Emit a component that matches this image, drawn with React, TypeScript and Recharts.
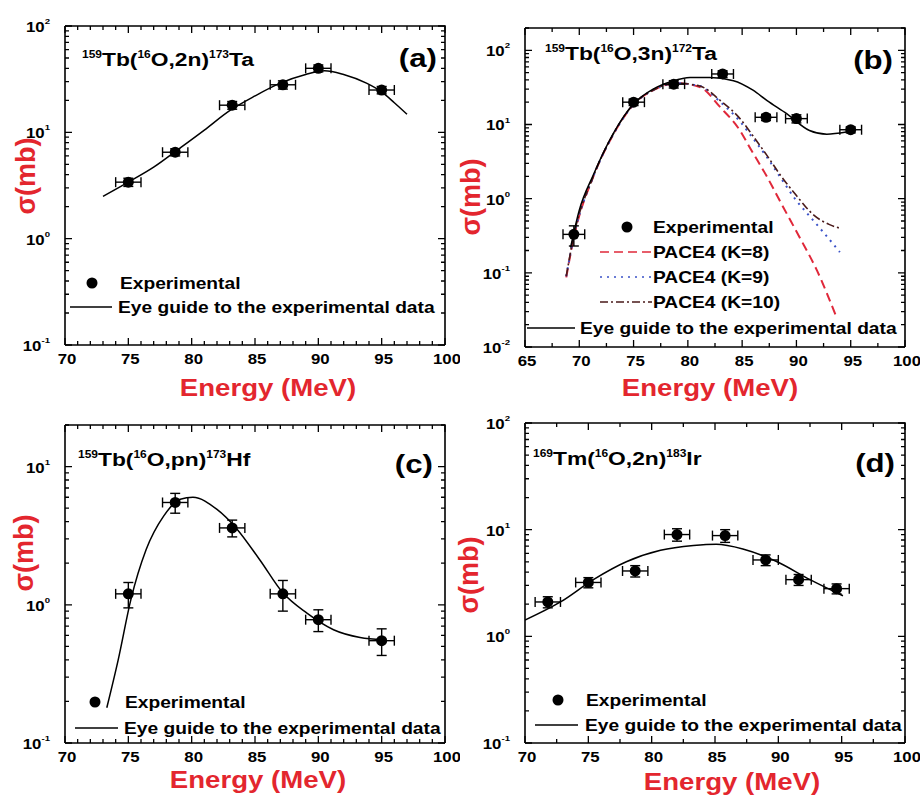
import React from "react"
import { ComposedChart, Scatter, Line, XAxis, YAxis, ErrorBar } from "recharts"

// ---- (a) 159Tb(16O,2n)173Ta
const aExpE = [75, 78.7, 83.2, 87.2, 90, 95]
const aExpV = [3.4, 6.5, 18, 28, 40, 25]
const aExpDy = [0.3, 0.5, 1.5, 2.5, 3, 2]
const aFitE = [73, 75, 77, 79, 81, 83, 85, 87, 89, 90.5, 92, 93.8, 95, 96, 97]
const aFitV = [2.5, 3.4, 4.7, 7, 10.5, 16, 22, 29, 35, 38, 35, 29, 24, 19, 14.8]

// ---- (b) 159Tb(16O,3n)172Ta
const bExpE = [69.5, 75, 78.7, 83.2, 87.2, 90, 95]
const bExpV = [0.33, 20, 35, 48, 12.5, 12, 8.5]
const bExpDy = [0.1, 2, 4, 5, 1.2, 1.5, 0.8]
const bFitE = [69.2, 70, 71.3, 73.1, 75, 76.8, 78.5, 80.2, 82, 84.2, 86, 87.3, 89.1, 91.2, 92.8, 94.6]
const bFitV = [0.22, 0.7, 2.1, 7.4, 19, 30, 38, 43, 43, 39, 29, 21, 14, 8.3, 7.4, 7.9]
const k8E = [68.8, 69.5, 71.3, 73.1, 75, 76.8, 79, 81.1, 83, 84.8, 85.7, 87.3, 88.8, 90.3, 91.9, 93.7]
const k8V = [0.087, 0.3, 2.0, 7.2, 18.5, 29, 36, 32, 17, 8.3, 4.9, 1.96, 0.76, 0.3, 0.107, 0.025]
const k9E = [68.8, 69.5, 71.3, 73.1, 75, 76.8, 79, 81.1, 83, 84.8, 86, 87.3, 88.5, 90, 91, 92.5, 94]
const k9V = [0.09, 0.31, 2.0, 7.2, 18.5, 29, 36, 33, 20, 11, 6.5, 3.6, 1.96, 0.94, 0.63, 0.35, 0.19]
const k10E = [68.8, 69.5, 71.3, 73.1, 75, 76.8, 79, 81.1, 83, 84.8, 86, 87.3, 88.5, 90, 91.6, 93, 94]
const k10V = [0.09, 0.32, 2.0, 7.3, 18.7, 29, 36, 33, 21, 12, 7, 3.8, 2.1, 1.1, 0.6, 0.45, 0.4]

// ---- (c) 159Tb(16O,pn)173Hf
const cExpE = [75, 78.7, 83.2, 87.2, 90, 95]
const cExpV = [1.2, 5.5, 3.6, 1.2, 0.78, 0.55]
const cExpDy = [0.25, 0.9, 0.5, 0.3, 0.14, 0.12]
const cFitE = [73.3, 74.2, 75.2, 76.4, 77.8, 79.1, 80.1, 82, 83.5, 85.4, 87.2, 89.1, 91.2, 93.3, 95.1]
const cFitV = [0.18, 0.4, 1.09, 2.5, 4.4, 5.8, 6.0, 4.9, 3.6, 2.1, 1.22, 0.87, 0.66, 0.58, 0.56]

// ---- (d) 169Tm(16O,2n)183Ir
const dExpE = [71.8, 75, 78.7, 82, 85.8, 89, 91.6, 94.6]
const dExpV = [2.1, 3.2, 4.1, 9.0, 8.8, 5.2, 3.4, 2.8]
const dExpDy = [0.25, 0.35, 0.5, 1.2, 1.2, 0.6, 0.4, 0.3]
const dFitE = [70, 72.8, 75.4, 78, 80.7, 83.3, 85.1, 87.2, 89.9, 92.5, 95.1]
const dFitV = [1.42, 2.1, 3.4, 5.0, 6.4, 7.1, 7.3, 6.6, 5.0, 3.4, 2.4]

const E_ERR = 1 // energy uncertainty, MeV

const xMajorA = [70, 75, 80, 85, 90, 95, 100]
const xMajorB = [65, 70, 75, 80, 85, 90, 95, 100]

const RED = "#e3262e"
const FONT = '"Liberation Sans", Arial, sans-serif'
const SX = 1.2
const W = 460
const H = 400
const AX_H = 30 // x axis band height
const AX_W = 50 // y axis band width

const pts = (e: number[], v: number[], dy: number[]) =>
  e.map((x, i) => ({ e: x, v: v[i], ex: E_ERR, ey: dy[i] }))
const curve = (e: number[], v: number[]) => e.map((x, i) => ({ e: x, v: v[i] }))

// minor ticks on x every `step`, log minors 2..9 per decade
function linTicks(lo: number, hi: number, step: number) {
  const out: number[] = []
  for (let t = lo; t <= hi + 1e-9; t += step) out.push(Math.round(t * 100) / 100)
  return out
}
function logTicks(lo: number, hi: number) {
  const out: number[] = []
  for (let k = Math.floor(Math.log10(lo)); k <= Math.ceil(Math.log10(hi)); k++)
    for (let m = 1; m < 10; m++) {
      const v = m * Math.pow(10, k)
      if (v >= lo * 0.999 && v <= hi * 1.001) out.push(v)
    }
  return out
}
const isDecade = (v: number) => Math.abs(Math.log10(v) - Math.round(Math.log10(v))) < 1e-6

function T({ x, y, size, anchor = "start", fill = "#000", children }: any) {
  return (
    <text transform={`translate(${x},${y}) scale(${SX},1)`} textAnchor={anchor} fontSize={size}
      fontWeight="bold" fontFamily={FONT} fill={fill}>{children}</text>
  )
}

function Reaction({ x, y, a, t, p, b, r }: any) {
  return (
    <T x={x} y={y} size={19}>
      <tspan fontSize={10} dy={-8}>{a}</tspan>
      <tspan dy={8}>{t}(</tspan>
      <tspan fontSize={10} dy={-8}>16</tspan>
      <tspan dy={8}>O,{p})</tspan>
      <tspan fontSize={10} dy={-8}>{b}</tspan>
      <tspan dy={8}>{r}</tspan>
    </T>
  )
}

function Dot(p: any) {
  return <circle cx={p.cx} cy={p.cy} r={5.5} fill="#000" />
}

type Fit = { data: { e: number; v: number }[]; stroke: string; dash?: string; width?: number }
type M = { top: number; right: number; bottom: number; left: number }

// m = frame position inside the 460x400 panel
function Panel({ left, top, m, xDomain, xTicks, xMajors, yDomain, exp, fits, children }: {
  left: number; top: number; m: M; xDomain: [number, number]; xTicks: number[]; xMajors: number[]
  yDomain: [number, number]; exp: any[]; fits: Fit[]; children: React.ReactNode
}) {
  const plotRight = W - m.right
  const plotBottom = H - m.bottom
  const yTicks = logTicks(yDomain[0], yDomain[1])
  const xTick = (p: any) => {
    const v = p.payload.value
    if (!xMajors.includes(v)) return <g />
    return <T x={p.x + 2} y={plotBottom + 19} size={14} anchor="middle">{v}</T>
  }
  const yTick = (p: any) => {
    const v = p.payload.value
    if (!isDecade(v)) return <g />
    const ex = Math.round(Math.log10(v))
    return (
      <T x={m.left - 15} y={p.y + 6} size={14} anchor="end">
        10<tspan fontSize={8} dy={-8}>{ex}</tspan>
      </T>
    )
  }
  // frame tick marks (inward, on all four sides); the frame box equals the plot area
  const fx = (v: number) => m.left + ((v - xDomain[0]) / (xDomain[1] - xDomain[0])) * (plotRight - m.left)
  const ly0 = Math.log10(yDomain[0])
  const ly1 = Math.log10(yDomain[1])
  const fy = (v: number) => plotBottom - ((Math.log10(v) - ly0) / (ly1 - ly0)) * (plotBottom - m.top)
  let marks = ""
  xTicks.forEach((v) => {
    const len = xMajors.includes(v) ? 7 : 4
    const x = fx(v)
    marks += `M${x},${plotBottom}V${plotBottom - len}M${x},${m.top}V${m.top + len}`
  })
  yTicks.forEach((v) => {
    const len = isDecade(v) ? 7 : 4
    const y = fy(v)
    marks += `M${m.left},${y}H${m.left + len}M${plotRight},${y}H${plotRight - len}`
  })
  const margin = { top: m.top, right: m.right, bottom: m.bottom - AX_H, left: m.left - AX_W }
  const line = { stroke: "#000", strokeWidth: 1.6 }
  return (
    <div style={{ position: "absolute", left, top, width: W, height: H }}>
      <ComposedChart width={W} height={H} margin={margin}>
        <XAxis type="number" dataKey="e" domain={xDomain} ticks={xTicks} interval={0} allowDataOverflow
          height={AX_H} tickSize={0} tickMargin={0} axisLine={line} tickLine={false} tick={xTick} />
        <YAxis type="number" dataKey="v" scale="log" domain={yDomain} ticks={yTicks} interval={0}
          allowDataOverflow width={AX_W} tickSize={0} tickMargin={0} axisLine={line} tickLine={false} tick={yTick} />
        {fits.map((f, i) => (
          <Line key={i} data={f.data} dataKey="v" type="monotone" stroke={f.stroke} strokeWidth={f.width ?? 1.5}
            strokeDasharray={f.dash} dot={false} activeDot={false} isAnimationActive={false} />
        ))}
        <Scatter data={exp} dataKey="v" shape={Dot} isAnimationActive={false}>
          <ErrorBar dataKey="ex" direction="x" width={5} stroke="#000" strokeWidth={1.4} />
          <ErrorBar dataKey="ey" direction="y" width={5} stroke="#000" strokeWidth={1.4} />
        </Scatter>
      </ComposedChart>
      <svg width={W} height={H} style={{ position: "absolute", left: 0, top: 0, pointerEvents: "none", overflow: "visible" }}>
        <path d={`M${m.left},${m.top}H${plotRight}V${plotBottom}`} stroke="#000" strokeWidth={1.6} fill="none" />
        <path d={marks} stroke="#000" strokeWidth={1.3} fill="none" />
        {children}
      </svg>
    </div>
  )
}

function YLabel({ x, y }: { x: number; y: number }) {
  return (
    <text transform={`translate(${x},${y}) rotate(-90)`} textAnchor="middle" fontSize={27} fontWeight="bold"
      fontFamily={FONT} fill={RED}>σ(mb)</text>
  )
}

function XLabel({ x, y }: { x: number; y: number }) {
  return <T x={x} y={y} size={23} anchor="middle" fill={RED}>Energy (MeV)</T>
}

function LegExp({ cx, cy, tx }: { cx: number; cy: number; tx: number }) {
  return (
    <g>
      <circle cx={cx} cy={cy} r={5.5} fill="#000" />
      <T x={tx} y={cy + 6} size={16}>Experimental</T>
    </g>
  )
}

function LegLine({ x1, x2, y, tx, label, stroke = "#000", dash }: any) {
  return (
    <g>
      <line x1={x1} x2={x2} y1={y} y2={y} stroke={stroke} strokeWidth={1.6} strokeDasharray={dash} />
      <T x={tx} y={y + 6} size={16}>{label}</T>
    </g>
  )
}

const EYE = "Eye guide to the experimental data"

export default function App() {
  return (
    <div style={{ position: "absolute", left: 0, top: 0, width: 922, height: 801, background: "#fff" }}>
      <Panel left={0} top={0} m={{ top: 26, right: 15, bottom: 55, left: 65 }} xDomain={[70, 100]}
        xTicks={linTicks(70, 100, 1)} xMajors={xMajorA} yDomain={[0.1, 100]}
        exp={pts(aExpE, aExpV, aExpDy)} fits={[{ data: curve(aFitE, aFitV), stroke: "#000" }]}>
        <Reaction x={82} y={66} a="159" t="Tb" p="2n" b="173" r="Ta" />
        <T x={437} y={67} size={26} anchor="end">(a)</T>
        <LegExp cx={92} cy={283} tx={120} />
        <LegLine x1={70} x2={112} y={307} tx={118} label={EYE} />
        <YLabel x={35} y={176} />
        <XLabel x={268} y={396} />
      </Panel>

      <Panel left={460} top={0} m={{ top: 28, right: 15, bottom: 53, left: 65 }} xDomain={[65, 100]}
        xTicks={linTicks(65, 100, 2.5)} xMajors={xMajorB} yDomain={[0.01, 200]}
        exp={pts(bExpE, bExpV, bExpDy)}
        fits={[
          { data: curve(k8E, k8V), stroke: "#e0283a", dash: "9 5", width: 2 },
          { data: curve(k9E, k9V), stroke: "#3a52c8", dash: "2 5", width: 2 },
          { data: curve(k10E, k10V), stroke: "#4a1a1a", dash: "8 3 2 3", width: 1.6 },
          { data: curve(bFitE, bFitV), stroke: "#000" },
        ]}>
        <Reaction x={85} y={60} a="159" t="Tb" p="3n" b="172" r="Ta" />
        <T x={433} y={69} size={26} anchor="end">(b)</T>
        <LegExp cx={167} cy={227} tx={193} />
        <LegLine x1={140} x2={192} y={252} tx={193} label="PACE4 (K=8)" stroke="#e0283a" dash="9 5" />
        <LegLine x1={140} x2={192} y={277} tx={193} label="PACE4 (K=9)" stroke="#3a52c8" dash="2 5" />
        <LegLine x1={140} x2={192} y={302} tx={193} label="PACE4 (K=10)" stroke="#4a1a1a" dash="8 3 2 3" />
        <LegLine x1={67} x2={115} y={328} tx={120} label={EYE} />
        <YLabel x={20} y={197} />
        <XLabel x={250} y={396} />
      </Panel>

      <Panel left={0} top={400} m={{ top: 25, right: 15, bottom: 57, left: 65 }} xDomain={[70, 100]}
        xTicks={linTicks(70, 100, 1)} xMajors={xMajorA} yDomain={[0.1, 20]}
        exp={pts(cExpE, cExpV, cExpDy)} fits={[{ data: curve(cFitE, cFitV), stroke: "#000" }]}>
        <Reaction x={78} y={66} a="159" t="Tb" p="pn" b="173" r="Hf" />
        <T x={433} y={73} size={26} anchor="end">(c)</T>
        <LegExp cx={95} cy={302} tx={125} />
        <LegLine x1={75} x2={118} y={328} tx={124} label={EYE} />
        <YLabel x={33} y={153} />
        <XLabel x={258} y={388} />
      </Panel>

      <Panel left={460} top={400} m={{ top: 23, right: 15, bottom: 57, left: 65 }} xDomain={[70, 100]}
        xTicks={linTicks(70, 100, 2.5)} xMajors={xMajorA} yDomain={[0.1, 100]}
        exp={pts(dExpE, dExpV, dExpDy)} fits={[{ data: curve(dFitE, dFitV), stroke: "#000" }]}>
        <Reaction x={73} y={65} a="169" t="Tm" p="2n" b="183" r="Ir" />
        <T x={435} y={72} size={26} anchor="end">(d)</T>
        <LegExp cx={98} cy={300} tx={126} />
        <LegLine x1={75} x2={118} y={325} tx={125} label={EYE} />
        <YLabel x={18} y={175} />
        <XLabel x={272} y={390} />
      </Panel>
    </div>
  )
}
